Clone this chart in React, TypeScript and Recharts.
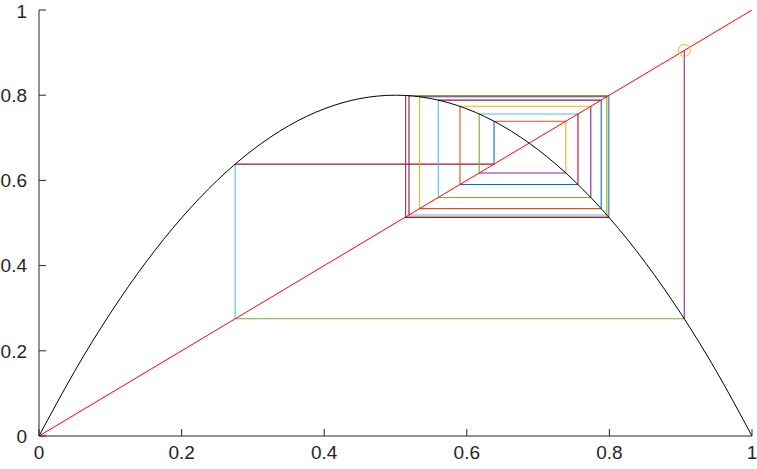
import { ComposedChart, Line, Scatter, XAxis, YAxis } from "recharts";

// logistic map curve
const curveX = [0, 0.05, 0.1, 0.15, 0.2, 0.25, 0.3, 0.35, 0.4, 0.45, 0.5, 0.55, 0.6, 0.65, 0.7, 0.75, 0.8, 0.85, 0.9, 0.95, 1];
const curveY = [0, 0.152, 0.288, 0.408, 0.512, 0.6, 0.672, 0.728, 0.768, 0.792, 0.8, 0.792, 0.768, 0.728, 0.672, 0.6, 0.512, 0.408, 0.288, 0.152, 0];

// cobweb orbit, starting at the circled point
const orbit = [0.905, 0.2751, 0.6382, 0.7389, 0.6174, 0.7559, 0.5904, 0.7739, 0.56, 0.7885, 0.5337, 0.7964, 0.5189, 0.7989, 0.5142, 0.7994, 0.5132];

const ticks = [0, 0.2, 0.4, 0.6, 0.8, 1];

const palette = ["#0072BD", "#D95319", "#EDB120", "#7E2F8E", "#77AC30", "#4DBEEE", "#A2142F"];

const curve = curveX.map((x, i) => ({ x, y: curveY[i] }));
const diagonal = [{ x: 0, y: 0 }, { x: 1, y: 1 }];
const start = [{ x: orbit[0], y: orbit[0] }];

const segments: Array<Array<{ x: number; y: number }>> = [];
for (let k = 0; k < orbit.length - 1; k++) {
  const a = orbit[k];
  const b = orbit[k + 1];
  segments.push([{ x: a, y: a }, { x: a, y: b }]);
  segments.push([{ x: a, y: b }, { x: b, y: b }]);
}

const tickStyle = { fill: "#262626", fontSize: 19, fontFamily: "Liberation Sans, Arial, sans-serif" };
const axisColor = "#262626";

const Ring = (props: any) => {
  const { cx, cy } = props;
  return <circle cx={cx} cy={cy} r={6} fill="none" stroke="#EDB120" strokeWidth={1} />;
};

export default function App() {
  return (
    <div style={{ position: "absolute", left: 0, top: 0, background: "#fff" }}>
      <ComposedChart width={757} height={469} margin={{ top: 10, right: 5, bottom: 0, left: 0 }}>
        <XAxis
          xAxisId={0}
          type="number"
          dataKey="x"
          domain={[0, 1]}
          ticks={ticks}
          height={33}
          tickSize={-7}
          tickMargin={17}
          tick={tickStyle}
          stroke={axisColor}
          allowDataOverflow
        />
        <XAxis
          xAxisId="top"
          orientation="top"
          type="number"
          domain={[0, 1]}
          ticks={ticks}
          height={0}
          tickSize={-7}
          tick={false}
          stroke={axisColor}
        />
        <YAxis
          yAxisId={0}
          type="number"
          domain={[0, 1]}
          ticks={ticks}
          width={39}
          tickSize={-7}
          tickMargin={19}
          tick={tickStyle}
          stroke={axisColor}
          allowDataOverflow
        />
        <YAxis
          yAxisId="right"
          orientation="right"
          type="number"
          domain={[0, 1]}
          ticks={ticks}
          width={0}
          tickSize={-7}
          tick={false}
          stroke={axisColor}
        />
        {segments.map((seg, i) => (
          <Line
            key={i}
            data={seg}
            dataKey="y"
            type="linear"
            stroke={palette[(3 + i) % palette.length]}
            strokeWidth={1.1}
            dot={false}
            activeDot={false}
            isAnimationActive={false}
          />
        ))}
        <Line data={curve} dataKey="y" type="natural" stroke="#000" strokeWidth={1} dot={false} activeDot={false} isAnimationActive={false} />
        <Line data={diagonal} dataKey="y" type="linear" stroke="#FF0000" strokeWidth={1} dot={false} activeDot={false} isAnimationActive={false} />
        <Scatter data={start} dataKey="y" shape={<Ring />} isAnimationActive={false} />
      </ComposedChart>
    </div>
  );
}
